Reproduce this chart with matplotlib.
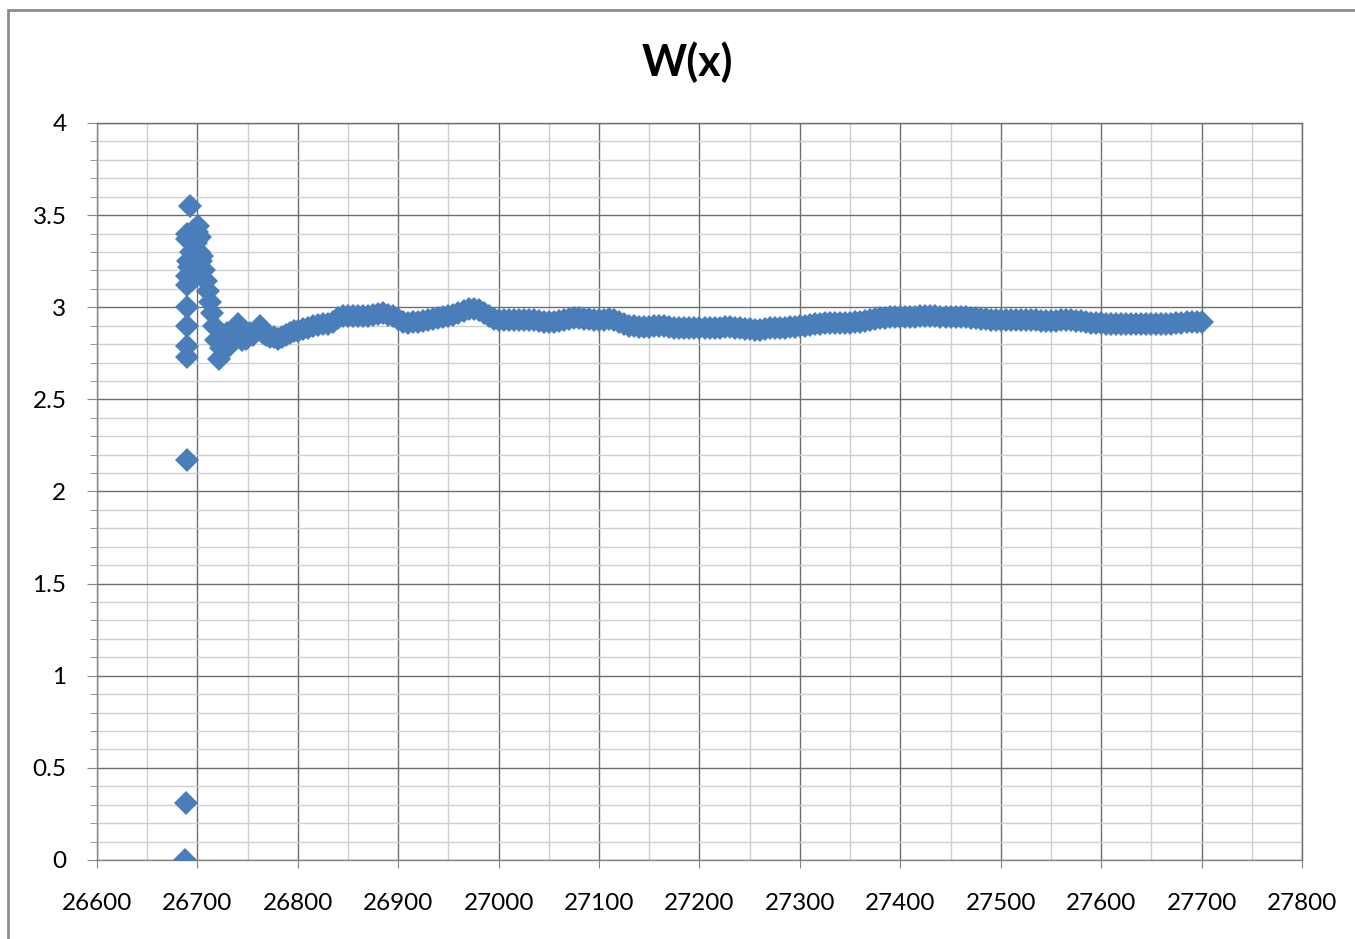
import numpy as np
import matplotlib
matplotlib.use("Agg")
import matplotlib.pyplot as plt
from matplotlib.ticker import MultipleLocator, FuncFormatter
from matplotlib.patches import Rectangle

plt.rcParams['font.family'] = ['Lato', 'DejaVu Sans']

# first samples (irregular, read point by point)
x_start = [26688, 26689, 26690, 26690, 26690, 26690, 26690, 26690, 26690, 26690, 26690,
           26691, 26692, 26693, 26694, 26695, 26695, 26696, 26697, 26698, 26699,
           26700, 26700, 26701, 26702, 26703, 26704, 26705, 26707, 26709, 26711,
           26713, 26715, 26717, 26719, 26721, 26723, 26725, 26727, 26729, 26731,
           26733, 26735, 26737, 26740, 26742, 26744, 26746, 26748, 26750, 26752,
           26755, 26758, 26762, 26765, 26768, 26772, 26776, 26780, 26784, 26788,
           26792, 26796]
y_start = [0.00, 0.31, 2.17, 2.73, 2.79, 2.90, 3.00, 3.12, 3.17, 3.37, 3.40,
           3.25, 3.22, 3.55, 3.30, 3.38, 3.15, 3.18, 3.42, 3.26, 3.35,
           3.20, 3.41, 3.44, 3.30, 3.38, 3.25, 3.28, 3.20, 3.14, 3.09,
           3.03, 2.97, 2.90, 2.82, 2.72, 2.78, 2.85, 2.80, 2.86, 2.79,
           2.84, 2.82, 2.88, 2.91, 2.86, 2.82, 2.85, 2.83, 2.84, 2.86,
           2.85, 2.87, 2.90, 2.86, 2.85, 2.84, 2.84, 2.83, 2.84, 2.85,
           2.86, 2.87]

# rest of the run, read every 5 steps of x
x_rest = np.arange(26800, 27701, 5)
y_rest = [
    2.87, 2.88, 2.89, 2.90, 2.905, 2.91, 2.91, 2.92, 2.94, 2.95,
    2.95, 2.95, 2.95, 2.95, 2.955, 2.96, 2.965, 2.97, 2.96, 2.95,
    2.935, 2.92, 2.915, 2.92, 2.92, 2.925, 2.93, 2.935, 2.94, 2.945,
    2.95, 2.96, 2.97, 2.98, 2.99, 2.99, 2.985, 2.97, 2.95, 2.935,
    2.93, 2.93, 2.93, 2.93, 2.93, 2.93, 2.93, 2.93, 2.925, 2.92,
    2.92, 2.92, 2.925, 2.93, 2.935, 2.94, 2.94, 2.935, 2.935, 2.93,
    2.93, 2.93, 2.935, 2.93, 2.92, 2.91, 2.90, 2.90, 2.895, 2.895,
    2.895, 2.90, 2.90, 2.90, 2.895, 2.89, 2.89, 2.89, 2.885, 2.885,
    2.885, 2.885, 2.89, 2.89, 2.89, 2.895, 2.895, 2.89, 2.885, 2.88,
    2.88, 2.878, 2.876, 2.88, 2.885, 2.89, 2.89, 2.89, 2.895, 2.895,
    2.898, 2.90, 2.905, 2.91, 2.91, 2.915, 2.917, 2.917, 2.915, 2.915,
    2.915, 2.92, 2.922, 2.926, 2.93, 2.935, 2.94, 2.942, 2.945, 2.947,
    2.947, 2.947, 2.945, 2.945, 2.95, 2.955, 2.955, 2.95, 2.948, 2.945,
    2.945, 2.945, 2.945, 2.945, 2.94, 2.94, 2.936, 2.935, 2.932, 2.93,
    2.93, 2.93, 2.93, 2.93, 2.93, 2.93, 2.93, 2.93, 2.927, 2.925,
    2.925, 2.927, 2.93, 2.93, 2.93, 2.928, 2.925, 2.92, 2.917, 2.912,
    2.912, 2.91, 2.91, 2.91, 2.91, 2.91, 2.91, 2.91, 2.91, 2.91,
    2.91, 2.91, 2.91, 2.91, 2.91, 2.913, 2.917, 2.92, 2.922, 2.922,
    2.92,
]

x = np.concatenate([x_start, x_rest])
y = np.concatenate([y_start, y_rest])

fig = plt.figure(figsize=(13.55, 9.39), dpi=100)
ax = fig.add_axes([97/1355, 1 - 860/939, (1302-97)/1355, (860-123)/939])

# chart border (Excel chart area), right and bottom edges fall outside the picture
fig.patches.append(Rectangle((8/1355, -0.2), 2, 1.2 - 10/939, transform=fig.transFigure,
                             fill=False, edgecolor='#8c8c8c', linewidth=2))

ax.plot(x, y, linestyle='none', marker='D', markersize=12.5,
        color='#4A7EBB', markeredgewidth=0, zorder=3)

ax.set_xlim(26600, 27800)
ax.set_ylim(0, 4)
ax.xaxis.set_major_locator(MultipleLocator(100))
ax.xaxis.set_minor_locator(MultipleLocator(50))
ax.yaxis.set_major_locator(MultipleLocator(0.5))
ax.yaxis.set_minor_locator(MultipleLocator(0.1))
ax.yaxis.set_major_formatter(FuncFormatter(lambda v, p: '%g' % v))

ax.grid(which='major', color='#6e6e6e', linewidth=1.0, zorder=0)
ax.grid(which='minor', color='#cfcfcf', linewidth=1.0, zorder=0)
ax.set_axisbelow(True)

for s in ax.spines.values():
    s.set_color('#6e6e6e')
    s.set_linewidth(1.0)
ax.spines['left'].set_color('#868686')
ax.spines['bottom'].set_color('#868686')

ax.tick_params(axis='x', which='major', direction='out', length=6, color='#868686',
               labelsize=17.5, pad=18)
ax.tick_params(axis='x', which='minor', length=0)
ax.tick_params(axis='y', which='major', direction='out', length=7, color='#868686',
               labelsize=17.5, pad=15)
ax.tick_params(axis='y', which='minor', direction='out', length=5, color='#868686')

fig.text(687/1355, 1 - 62/939, 'W(x)', ha='center', va='center',
         fontsize=31, fontweight='bold')

fig.savefig('out.png', dpi=100)
